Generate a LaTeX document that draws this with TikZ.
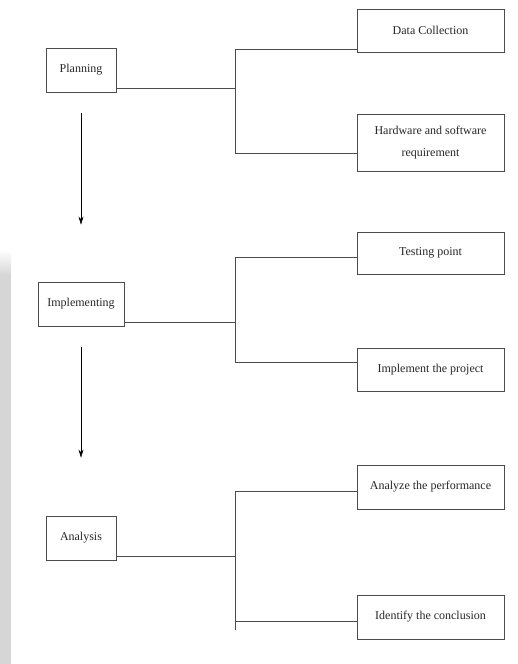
\documentclass[tikz,border=0pt]{standalone}
\usepackage{fontspec}
\setmainfont{Liberation Serif}
\usetikzlibrary{arrows.meta}

\begin{document}
\begin{tikzpicture}[x=1pt,y=-1pt,
    stagebox/.style={draw=black!70,line width=0.8pt,minimum height=44pt,inner sep=2pt,
      font=\fontsize{12}{22}\selectfont,text=black!85},
    taskbox/.style={stagebox,minimum width=147pt,align=center},
    link/.style={draw=black!70,line width=0.8pt},
    flow/.style={black,line width=0.6pt,-{Stealth[length=8pt,width=5pt]},shorten <=21pt}]
  \useasboundingbox (0,0) rectangle (518,664);
  % faded band on the left
  \fill[black!16] (0,275) rectangle (11,664);
  \shade[top color=white,bottom color=black!16] (0,250) rectangle (11,275);

  % stages
  \node[stagebox,minimum width=70pt] (planning) at (81,70) {Planning};
  \node[stagebox,minimum width=86pt] (implementing) at (81,304) {Implementing};
  \node[stagebox,minimum width=70pt] (analysis) at (81,538) {Analysis};

  % tasks
  \node[taskbox,minimum height=43pt] (datacoll) at (430.5,30.5) {Data Collection};
  \node[taskbox,minimum height=57pt] (hwsw) at (430.5,142.5) {Hardware and software\\requirement};
  \node[taskbox,minimum height=42pt] (testing) at (430.5,253) {Testing point};
  \node[taskbox,minimum height=43pt] (implproj) at (430.5,369.5) {Implement the project};
  \node[taskbox] (analyze) at (430.5,487) {Analyze the performance};
  \node[taskbox] (identify) at (430.5,617) {Identify the conclusion};

  \coordinate (spine) at (235,0);

  \draw[link] ([yshift=4pt]planning.south east) -- ([yshift=4pt]planning.south east -| spine);
  \draw[link] ([yshift=-18.5pt]datacoll.west) -| ([yshift=-10.5pt]hwsw.west -| spine) -- ([yshift=-10.5pt]hwsw.west);

  \draw[link] ([yshift=4pt]implementing.south east) -- ([yshift=4pt]implementing.south east -| spine);
  \draw[link] ([yshift=-4pt]testing.west) -| ([yshift=7.5pt]implproj.west -| spine) -- ([yshift=7.5pt]implproj.west);

  \draw[link] ([yshift=4pt]analysis.south east) -- ([yshift=4pt]analysis.south east -| spine);
  \draw[link] ([yshift=-4pt]analyze.west) -| ([yshift=-13pt]identify.west -| spine);
  \draw[link] ([yshift=-4pt]identify.west) -- ([yshift=-4pt]identify.west -| spine);

  % stage order
  \draw[flow,shorten >=57pt] (planning) -- (implementing);
  \draw[flow,shorten >=58pt] (implementing) -- (analysis);
\end{tikzpicture}
\end{document}
